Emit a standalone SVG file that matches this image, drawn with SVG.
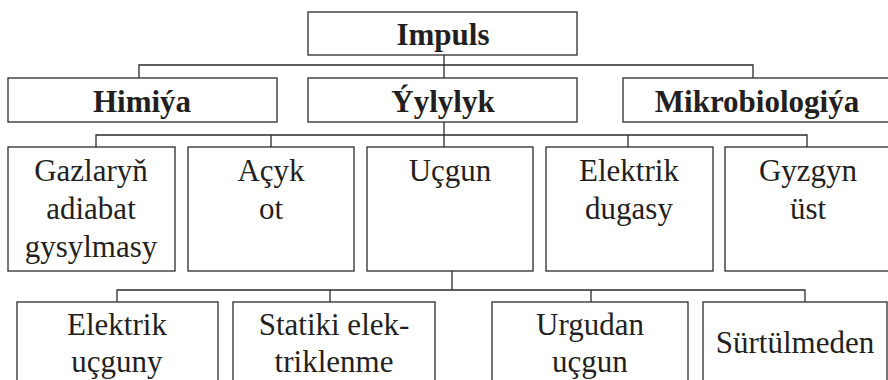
<svg xmlns="http://www.w3.org/2000/svg" width="888" height="380" viewBox="0 0 888 380">
<style>
.n{fill:#fff;stroke:#2b2b2b;stroke-width:1.3}
.c{fill:none;stroke:#2b2b2b;stroke-width:1.3}
</style>
<rect width="888" height="380" fill="#fff"/>
<g id="connectors">
<path class="c" d="M444 55V78M139 78V65H753V78"/>
<path class="c" d="M444 122V147M96 147V135H807V147M271 135V147M628 135V147"/>
<path class="c" d="M452 271V290M117 302V290H805V302M330 290V302M591 290V302"/>
</g>
<g id="impuls"><rect class="n" x="308" y="12" width="269" height="43"/><text font-family="Liberation Serif" font-size="31" font-weight="bold" fill="#231f20" text-anchor="middle" x="443" y="45">Impuls</text></g>
<g id="himiya"><rect class="n" x="8" y="78" width="269" height="44"/><text font-family="Liberation Serif" font-size="31" font-weight="bold" fill="#231f20" text-anchor="middle" x="142" y="112">Himiýa</text></g>
<g id="yylylyk"><rect class="n" x="308" y="78" width="269" height="44"/><text font-family="Liberation Serif" font-size="31" font-weight="bold" fill="#231f20" text-anchor="middle" x="443" y="112">Ýylylyk</text></g>
<g id="mikro"><rect class="n" x="623" y="78" width="270" height="44"/><text font-family="Liberation Serif" font-size="31" font-weight="bold" fill="#231f20" text-anchor="middle" x="757" y="112">Mikrobiologiýa</text></g>
<g id="gazlar"><rect class="n" x="8" y="147" width="167" height="124"/><text font-family="Liberation Serif" font-size="31" fill="#231f20" text-anchor="middle" x="91" y="181">Gazlaryň</text><text font-family="Liberation Serif" font-size="31" fill="#231f20" text-anchor="middle" x="91" y="219">adiabat</text><text font-family="Liberation Serif" font-size="31" fill="#231f20" text-anchor="middle" x="91" y="257">gysylmasy</text></g>
<g id="acyk"><rect class="n" x="188" y="147" width="166" height="124"/><text font-family="Liberation Serif" font-size="31" fill="#231f20" text-anchor="middle" x="271" y="181">Açyk</text><text font-family="Liberation Serif" font-size="31" fill="#231f20" text-anchor="middle" x="271" y="219">ot</text></g>
<g id="ucgun"><rect class="n" x="367" y="147" width="166" height="124"/><text font-family="Liberation Serif" font-size="31" fill="#231f20" text-anchor="middle" x="450" y="181">Uçgun</text></g>
<g id="dugasy"><rect class="n" x="546" y="147" width="167" height="124"/><text font-family="Liberation Serif" font-size="31" fill="#231f20" text-anchor="middle" x="629" y="181">Elektrik</text><text font-family="Liberation Serif" font-size="31" fill="#231f20" text-anchor="middle" x="629" y="219">dugasy</text></g>
<g id="gyzgyn"><rect class="n" x="725" y="147" width="170" height="124"/><text font-family="Liberation Serif" font-size="31" fill="#231f20" text-anchor="middle" x="808" y="181">Gyzgyn</text><text font-family="Liberation Serif" font-size="31" fill="#231f20" text-anchor="middle" x="808" y="219">üst</text></g>
<g id="el-ucguny"><rect class="n" x="17" y="302" width="201" height="90"/><text font-family="Liberation Serif" font-size="31" fill="#231f20" text-anchor="middle" x="117" y="335">Elektrik</text><text font-family="Liberation Serif" font-size="31" fill="#231f20" text-anchor="middle" x="117" y="372">uçguny</text></g>
<g id="statiki"><rect class="n" x="233" y="302" width="202" height="90"/><text font-family="Liberation Serif" font-size="31" fill="#231f20" text-anchor="middle" x="334" y="335">Statiki elek-</text><text font-family="Liberation Serif" font-size="31" fill="#231f20" text-anchor="middle" x="334" y="372">triklenme</text></g>
<g id="urgudan"><rect class="n" x="492" y="302" width="196" height="90"/><text font-family="Liberation Serif" font-size="31" fill="#231f20" text-anchor="middle" x="590" y="335">Urgudan</text><text font-family="Liberation Serif" font-size="31" fill="#231f20" text-anchor="middle" x="590" y="372">uçgun</text></g>
<g id="surtulmeden"><rect class="n" x="703" y="302" width="184" height="90"/><text font-family="Liberation Serif" font-size="31" fill="#231f20" text-anchor="middle" x="795" y="353">Sürtülmeden</text></g>
</svg>
